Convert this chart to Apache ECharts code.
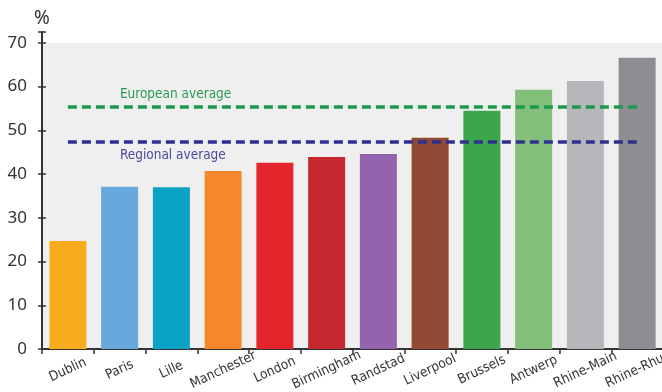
<!DOCTYPE html>
<html><head><meta charset="utf-8">
<script src="https://cdn.jsdelivr.net/npm/echarts@6/dist/echarts.min.js"></script>
<style>html,body{margin:0;padding:0;background:#fff}#c{width:662px;height:392px}</style>
</head><body><div id="c"></div>
<script>
var categories = ['Dublin','Paris','Lille','Manchester','London','Birmingham','Randstad','Liverpool','Brussels','Antwerp','Rhine-Main','Rhine-Rhur'];
var values = [24.7, 37.1, 37.0, 40.7, 42.6, 43.9, 44.6, 48.3, 54.5, 59.3, 61.3, 66.6];
var barColors = ['#f8ab1c','#67a9dd','#0aa3c4','#f5882a','#e3242b','#c4272e','#9363ad','#924a34','#3ea64a','#82bf7a','#b5b7ba','#8d8e91'];
var europeanAvg = 55.4;
var regionalAvg = 47.3;
var yTicks = [0,10,20,30,40,50,60,70];

var condensed = '"Liberation Sans Narrow","DejaVu Sans Condensed",sans-serif';
var chart = echarts.init(document.getElementById('c'), null, {renderer:'canvas'});
chart.setOption({
  animation:false,
  backgroundColor:'#fff',
  grid:{left:42, width:621, top:32, bottom:43, containLabel:false, outerBoundsMode:'none'},
  xAxis:{
    type:'category', data:categories,
    axisLine:{lineStyle:{color:'#333', width:2}},
    axisTick:{show:true, length:5, lineStyle:{color:'#333', width:1.5}},
    axisLabel:{interval:0, rotate:25, color:'#333', fontFamily:condensed, fontSize:13.5, margin:21, align:'center', verticalAlign:'middle'}
  },
  yAxis:[{
    type:'value', min:0, max:72.5, interval:10,
    name:'%', nameGap:4, nameTextStyle:{color:'#333', fontSize:19, fontFamily:'"Noto Sans",sans-serif', align:'center'},
    axisLine:{show:true, lineStyle:{color:'#333', width:2}},
    axisTick:{show:true, length:4, lineStyle:{color:'#333', width:1.5}},
    axisLabel:{color:'#333', fontSize:17, fontFamily:'"Noto Sans",sans-serif', margin:15,
      formatter:function(v){return yTicks.indexOf(v)>=0?String(v):'';}},
    splitLine:{show:false}
  },{
    type:'value', min:0, max:72.5, interval:10, position:'left',
    axisLine:{show:false},
    axisTick:{show:true, inside:true, length:4, lineStyle:{color:'#333', width:1.5}},
    axisLabel:{show:false}, splitLine:{show:false}
  }],
  series:[{
    type:'bar', barWidth:37,
    data: values.map(function(v,i){return {value:v, itemStyle:{color:barColors[i]}};}),
    markArea:{silent:true, itemStyle:{color:'#efeff0'}, data:[[{yAxis:0},{yAxis:70}]], z:-1},
    markLine:{
      silent:true, symbol:'none',
      data:[
        [{coord:[categories[0], europeanAvg], lineStyle:{color:'#1c9a4c', width:3.5, type:[9,5]},
          label:{show:true, formatter:'European average', position:'insideStartTop', distance:[52,5], color:'#2a9a55', fontFamily:condensed, fontSize:13.5}},
         {coord:[categories[categories.length-1], europeanAvg]}],
        [{coord:[categories[0], regionalAvg], lineStyle:{color:'#30318f', width:3.5, type:[9,5]},
          label:{show:true, formatter:'Regional average', position:'insideStartBottom', distance:[52,6], color:'#4b4a9e', fontFamily:condensed, fontSize:13.5}},
         {coord:[categories[categories.length-1], regionalAvg]}]
      ]
    }
  }]
});
</script></body></html>
